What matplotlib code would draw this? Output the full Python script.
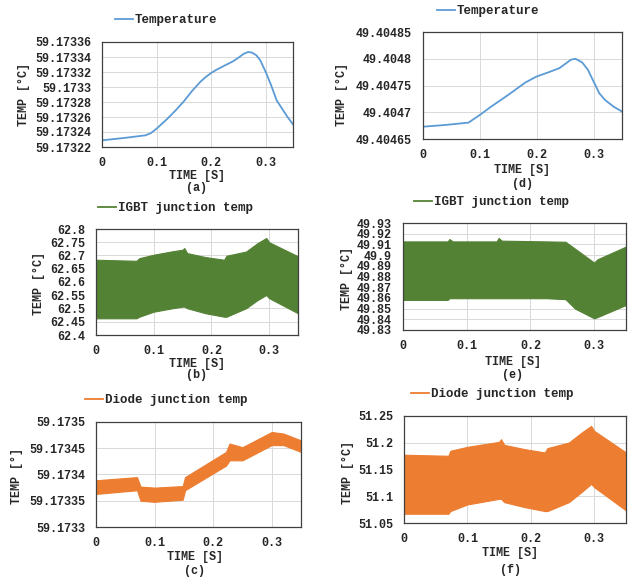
import numpy as np
import matplotlib
matplotlib.use("Agg")
import matplotlib.pyplot as plt
from matplotlib.ticker import FuncFormatter, FixedLocator

plt.rcParams['font.family'] = ['Liberation Mono', 'DejaVu Sans']
plt.rcParams['font.weight'] = 'bold'

BLUE = '#5B9BD5'
GREEN = '#548235'
ORANGE = '#ED7D31'
TXT = '#262626'

# (a) case temperature, left column
t_a = [0, 0.04, 0.06, 0.08, 0.09, 0.1, 0.12, 0.135, 0.15, 0.165, 0.18, 0.19, 0.2, 0.21,
       0.228, 0.24, 0.25, 0.26, 0.268, 0.275, 0.283, 0.29, 0.3, 0.31, 0.32, 0.332, 0.34, 0.35]
temp_a = [59.1732289, 59.173232, 59.1732338, 59.1732356, 59.1732387, 59.1732444, 59.1732578,
          59.1732689, 59.1732809, 59.1732947, 59.1733067, 59.1733133, 59.1733187, 59.1733231,
          59.1733298, 59.1733342, 59.1733391, 59.1733444, 59.1733467, 59.1733458, 59.1733422,
          59.1733356, 59.17332, 59.1733022, 59.1732822, 59.1732689, 59.17326, 59.1732502]

# (d) case temperature, right column
t_d = [0, 0.04, 0.08, 0.1, 0.12, 0.15, 0.18, 0.2, 0.22, 0.24, 0.26, 0.268, 0.28, 0.29,
       0.3, 0.31, 0.32, 0.335, 0.35]
temp_d = [49.404673, 49.4046763, 49.4046806, 49.404695, 49.4047106, 49.4047325, 49.4047556,
          49.4047669, 49.4047744, 49.4047825, 49.4047981, 49.4048, 49.4047931, 49.4047794,
          49.4047575, 49.4047356, 49.4047231, 49.4047106, 49.4047013]

# (b) IGBT junction temp envelope, left column
t_b = [0, 0.07, 0.075, 0.1, 0.13, 0.15, 0.153, 0.158, 0.19, 0.222, 0.226, 0.26, 0.28, 0.295, 0.3, 0.35]
hi_b = [62.684, 62.680, 62.690, 62.703, 62.715, 62.722, 62.728, 62.709, 62.694, 62.684,
        62.699, 62.715, 62.747, 62.766, 62.750, 62.697]
lo_b = [62.463, 62.463, 62.469, 62.488, 62.500, 62.507, 62.507, 62.501, 62.482, 62.469,
        62.469, 62.501, 62.532, 62.551, 62.539, 62.482]

# (e) IGBT junction temp envelope, right column
t_e = [0, 0.07, 0.073, 0.078, 0.147, 0.15, 0.155, 0.225, 0.255, 0.27, 0.3, 0.305, 0.35]
hi_e = [49.9128, 49.9128, 49.9150, 49.9128, 49.9128, 49.9160, 49.9135, 49.9128, 49.9125,
        49.9060, 49.8930, 49.8960, 49.9080]
lo_e = [49.8581, 49.8581, 49.8597, 49.8597, 49.8597, 49.8597, 49.8597, 49.8597, 49.8588,
        49.8500, 49.8409, 49.8420, 49.8534]

# (c) diode junction temp envelope, left column
t_c = [0, 0.07, 0.076, 0.1, 0.148, 0.152, 0.222, 0.228, 0.25, 0.3, 0.32, 0.35]
hi_c = [59.173389, 59.173395, 59.173377, 59.173375, 59.173378, 59.173395, 59.173443,
        59.173459, 59.173452, 59.173481, 59.173478, 59.173465]
lo_c = [59.173363, 59.17337, 59.17335, 59.173348, 59.173352, 59.17337, 59.173417,
        59.173427, 59.173427, 59.173456, 59.173456, 59.173443]

# (f) diode junction temp envelope, right column
t_f = [0, 0.07, 0.073, 0.1, 0.15, 0.153, 0.158, 0.19, 0.222, 0.226, 0.26, 0.28, 0.295, 0.3, 0.35]
hi_f = [51.1776, 51.1757, 51.185, 51.1924, 51.2017, 51.2067, 51.1961, 51.1881, 51.1819,
        51.1899, 51.2005, 51.219, 51.2314, 51.2221, 51.1819]
lo_f = [51.0673, 51.0673, 51.0723, 51.0847, 51.0952, 51.0952, 51.089, 51.0797, 51.0723,
        51.0723, 51.089, 51.108, 51.1231, 51.1169, 51.0735]

W, H = 630, 578
fig = plt.figure(figsize=(W / 100, H / 100), dpi=100)


def box(l, r, t, b):
    return [l / W, 1 - b / H, (r - l) / W, (b - t) / H]


def strip(dec):
    def f(v, pos):
        s = f"{v:.{dec}f}".rstrip('0').rstrip('.')
        return s
    return f


def style(ax, yticks, dec):
    ax.set_xlim(0, 0.35)
    ax.set_ylim(yticks[0], yticks[-1])
    ax.xaxis.set_major_locator(FixedLocator([0, 0.1, 0.2, 0.3]))
    ax.yaxis.set_major_locator(FixedLocator(yticks))
    ax.xaxis.set_major_formatter(FuncFormatter(lambda v, p: f"{v:g}"))
    ax.yaxis.set_major_formatter(FuncFormatter(strip(dec)))
    ax.tick_params(length=0, labelsize=8.5, colors=TXT)
    ax.tick_params(axis='y', pad=8)
    ax.tick_params(axis='x', pad=7)
    ax.grid(True, color='#D9D9D9', lw=0.7)
    ax.set_axisbelow(True)
    for s in ax.spines.values():
        s.set_color('#404040')
        s.set_linewidth(0.9)


def legend(ax, label, color, x, y):
    h, = ax.plot([], [], color=color, lw=1.3)
    ax.legend([h], [label], loc='center left', bbox_to_anchor=((x - 6) / W, 1 - y / H),
              bbox_transform=fig.transFigure, frameon=False, borderpad=0,
              handlelength=1.45, handletextpad=0.1, fontsize=9,
              labelcolor=TXT)


def labels(xc, ytime, ycap, cap, ylx, yly, ylab):
    fig.text(xc / W, 1 - ytime / H, "TIME [S]", ha='center', va='center', fontsize=8.5, color=TXT)
    fig.text(xc / W, 1 - ycap / H, cap, ha='center', va='center', fontsize=8.5, color=TXT)
    fig.text(ylx / W, 1 - yly / H, ylab, ha='center', va='center', rotation=90,
             fontsize=8.5, color=TXT)


# (a)
ax = fig.add_axes(box(102, 293, 42, 147))
ax.plot(t_a, temp_a, color=BLUE, lw=1.3)
style(ax, list(np.round(np.arange(59.17322, 59.173365, 0.00002), 5)), 5)
legend(ax, "Temperature", BLUE, 115, 20)
labels(197, 176, 188, "(a)", 24, 95, "TEMP [°C]")

# (d)
ax = fig.add_axes(box(423, 622, 32, 139))
ax.plot(t_d, temp_d, color=BLUE, lw=1.3)
style(ax, list(np.round(np.arange(49.40465, 49.404855, 0.00005), 5)), 5)
legend(ax, "Temperature", BLUE, 437, 11)
labels(522, 170, 184, "(d)", 342, 94, "TEMP [°C]")

# (b)
ax = fig.add_axes(box(96, 298, 229, 335))
ax.fill_between(t_b, lo_b, hi_b, color=GREEN, lw=0.8)
style(ax, list(np.round(np.arange(62.4, 62.801, 0.05), 2)), 2)
legend(ax, "IGBT junction temp", GREEN, 98, 208)
labels(197, 364, 375, "(b)", 39, 283, "TEMP [°C]")

# (e)
ax = fig.add_axes(box(403, 626, 223, 330))
ax.fill_between(t_e, lo_e, hi_e, color=GREEN, lw=0.8)
style(ax, list(np.round(np.arange(49.83, 49.9301, 0.01), 2)), 2)
legend(ax, "IGBT junction temp", GREEN, 414, 202)
labels(513, 362, 375, "(e)", 347, 278, "TEMP [°C]")

# (c)
ax = fig.add_axes(box(96, 301, 422, 527))
ax.fill_between(t_c, lo_c, hi_c, color=ORANGE, lw=0.8)
style(ax, list(np.round(np.arange(59.1733, 59.173501, 0.00005), 5)), 5)
legend(ax, "Diode junction temp", ORANGE, 85, 400)
labels(195, 557, 571, "(c)", 17, 476, "TEMP [°]")

# (f)
ax = fig.add_axes(box(404, 626, 416, 523))
ax.fill_between(t_f, lo_f, hi_f, color=ORANGE, lw=0.8)
style(ax, list(np.round(np.arange(51.05, 51.2501, 0.05), 2)), 2)
legend(ax, "Diode junction temp", ORANGE, 411, 394)
labels(510, 553, 570, "(f)", 348, 472, "TEMP [°C]")

fig.savefig("out.png", dpi=100)
